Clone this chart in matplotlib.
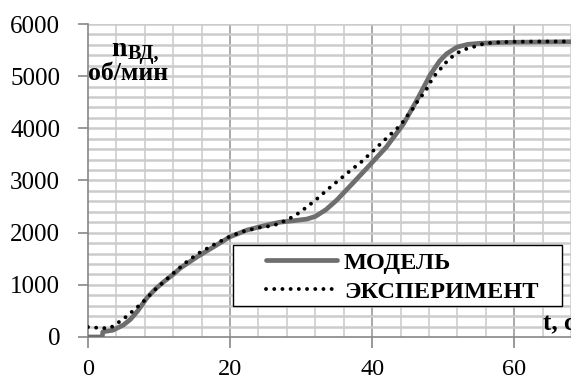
import numpy as np
import matplotlib
matplotlib.use('Agg')
import matplotlib.pyplot as plt
from matplotlib.patches import Rectangle

plt.rcParams['font.family'] = ['Liberation Serif', 'DejaVu Serif']

# model curve
t_model = [0, 2, 2.1, 3.5, 5, 6, 7, 8.3, 9.5, 10.6, 12, 13, 15.3, 17.6, 20,
           22.4, 25, 27, 29, 30.8, 32, 33.5, 35, 37.3, 39.7, 42, 44.4, 46.3,
           48.2, 49.5, 50.5, 52, 53.5, 55.2, 58, 60, 64, 68]
n_model = [0, 0, 100, 130, 230, 340, 500, 750, 920, 1050, 1200, 1320, 1530,
           1720, 1920, 2050, 2140, 2200, 2230, 2260, 2310, 2440, 2620, 2950,
           3300, 3640, 4080, 4540, 5030, 5290, 5430, 5560, 5610, 5630, 5645,
           5650, 5655, 5660]

# experiment points
t_exp = [0, 1, 2, 3.1, 4.2, 5.4, 6.5, 7.6, 8.6, 9.7, 10.7, 12, 13.9, 15.5,
         17.6, 20, 22, 24.2, 25.9, 27, 28.5, 29.6, 30.8, 32, 34.1, 36.5, 38.6,
         40.7, 42.8, 44, 44.9, 45.7, 46.5, 47.5, 48.6, 49.7, 50.7, 51.9, 53.2,
         54.5, 55.9, 58, 60, 64, 68]
n_exp = [190, 180, 170, 170, 270, 390, 520, 650, 790, 940, 1060, 1220, 1440,
         1600, 1760, 1930, 2030, 2100, 2130, 2180, 2280, 2370, 2490, 2620, 2870,
         3140, 3370, 3640, 3910, 4060, 4230, 4370, 4540, 4710, 4980, 5150, 5310,
         5440, 5520, 5570, 5630, 5650, 5660, 5665, 5665]

x_ticks = [0, 20, 40, 60]
y_ticks = [0, 1000, 2000, 3000, 4000, 5000, 6000]

fig = plt.figure(figsize=(5.71, 3.78), dpi=100)
ax = fig.add_axes([0.154, 0.1085, 0.846, 0.828])

ax.set_xlim(0, 68)
ax.set_ylim(0, 6000)

# grid
for x in np.arange(4, 69, 4):
    c = '#a8a8a8' if x % 20 == 0 else '#d4d4d4'
    ax.axvline(x, color=c, lw=1.4, zorder=1)
for y in np.arange(200, 6001, 200):
    ax.axhline(y, color='#cccccc', lw=1.8, zorder=1)

ax.plot(t_model, n_model, color='#6e6e6e', lw=3.4, solid_capstyle='round',
        zorder=3, label='МОДЕЛЬ')
ax.plot(t_exp, n_exp, color='black', lw=2.8, linestyle=(0, (0.01, 2.1)),
        dash_capstyle='round', zorder=3.5, label='ЭКСПЕРИМЕНТ')

ax.set_xticks(x_ticks)
ax.set_yticks(y_ticks)
ax.tick_params(axis='y', length=7, width=1.2, color='#888888', pad=13,
               labelsize=18)
ax.tick_params(axis='x', length=8, width=1.2, color='#888888', pad=8,
               labelsize=17.5)
for s in ['top', 'right']:
    ax.spines[s].set_visible(False)
for s in ['left', 'bottom']:
    ax.spines[s].set_color('#888888')
    ax.spines[s].set_linewidth(1.2)
    ax.spines[s].set_zorder(2)

# axis titles inside plot
fig.text(111 / 571, 1 - 56 / 378, 'n', fontsize=20, fontweight='bold')
fig.text(128 / 571, 1 - 59 / 378, 'ВД,', fontsize=14.5, fontweight='bold')
fig.text(88 / 571, 1 - 80 / 378, 'об/мин', fontsize=18.5, fontweight='bold')
fig.text(543 / 571, 1 - 330 / 378, 't, c', fontsize=18, fontweight='bold')

# legend box
ax.add_patch(Rectangle((0.300, 0.099), 0.681, 0.195, transform=ax.transAxes,
                       facecolor='white', edgecolor='black', lw=1.0,
                       zorder=4))
leg = ax.legend(loc='upper left', bbox_to_anchor=(0.369, 0.272),
                frameon=False, borderpad=0, borderaxespad=0,
                handlelength=2.9, handletextpad=0.3, labelspacing=0.28,
                prop={'size': 17.5, 'weight': 'bold'})
leg.set_zorder(5)

fig.savefig('out.png', dpi=100)
